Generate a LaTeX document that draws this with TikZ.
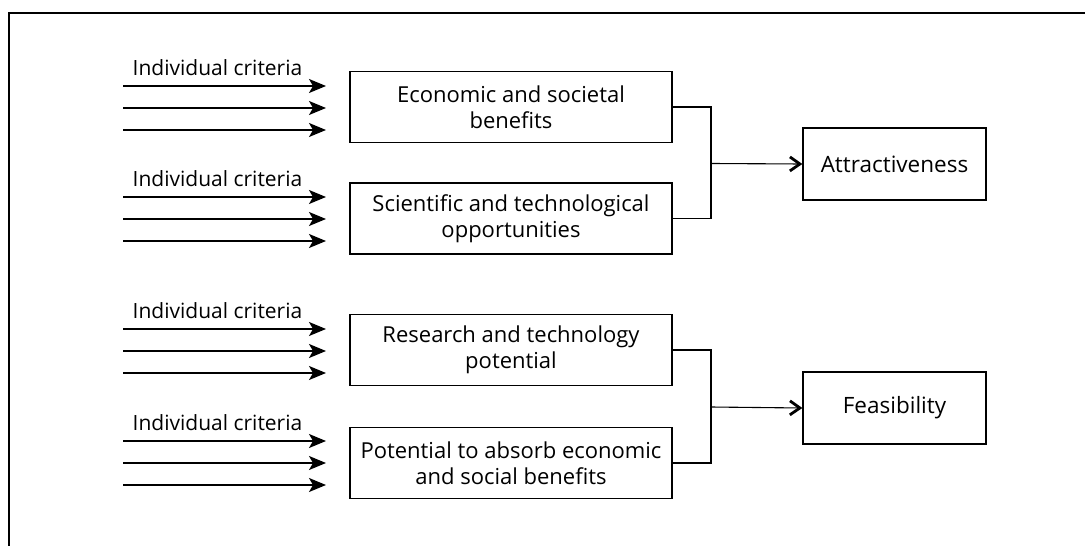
\documentclass[tikz,border=0pt]{standalone}
\usepackage{fontspec}
\setmainfont{Open Sans}
\usetikzlibrary{arrows.meta}
\tikzset{
  box/.style={draw, line width=1.3pt, minimum width=322pt, minimum height=71pt, align=center, inner sep=2pt, font=\fontsize{22}{25.5}\selectfont},
  goal/.style={draw, line width=1.3pt, minimum width=183pt, minimum height=72pt, align=center, font=\fontsize{22.5}{25}\selectfont},
  crit/.style={font=\fontsize{21}{24}\selectfont, inner sep=0pt},
  inarrow/.style={line width=1.4pt, -{Stealth[length=17pt,width=14pt,inset=4pt]}},
  link/.style={line width=1.3pt},
  outarrow/.style={line width=1.1pt, -{Straight Barb[length=10pt,width=14pt,line width=2.8pt]}},
  frame/.style={line width=1.7pt}
}
\begin{document}
\begin{tikzpicture}[x=1pt,y=-1pt]
\useasboundingbox (0,0) rectangle (1085,546);
% frame (top and left edges)
\coordinate (fr) at (1085,13);
\coordinate (fc) at (9,13);
\coordinate (fb) at (9,546);
\draw[frame] (fr) -- (fc) -- (fb);

% boxes
\node[box] (b1) at (511,107) {Economic and societal\\benefits};
\node[box] (b2) at (511,218.5) {Scientific and technological\\opportunities};
\node[box] (b3) at (511,350) {Research and technology\\potential};
\node[box] (b4) at (511,463) {Potential to absorb economic\\and social benefits};

\node[goal] (attr) at (894.5,164) {Attractiveness};
\node[goal] (feas) at (894.5,408) {Feasibility};

% criteria labels and input arrows
\foreach \i/\y in {1/108, 2/219, 3/351, 4/463} {
  \node[crit] (l\i) at (217.5,\y-40) {Individual criteria};
  \foreach \k/\d in {1/-22, 2/0, 3/22} {
    \coordinate (s\i\k) at (123,\y+\d);
    \coordinate (e\i\k) at (326,\y+\d);
    \draw[inarrow] (s\i\k) -- (e\i\k);
  }
}

% brackets
\coordinate (j1) at (711,163.5);
\coordinate (j2) at (711,407);
\draw[link] (b1.east) -| (j1);
\draw[link] (b2.east) -| (j1);
\draw[outarrow] (j1) -- (attr.west);
\draw[link] (b3.east) -| (j2);
\draw[link] (b4.east) -| (j2);
\draw[outarrow] (j2) -- (feas.west);
\end{tikzpicture}
\end{document}
